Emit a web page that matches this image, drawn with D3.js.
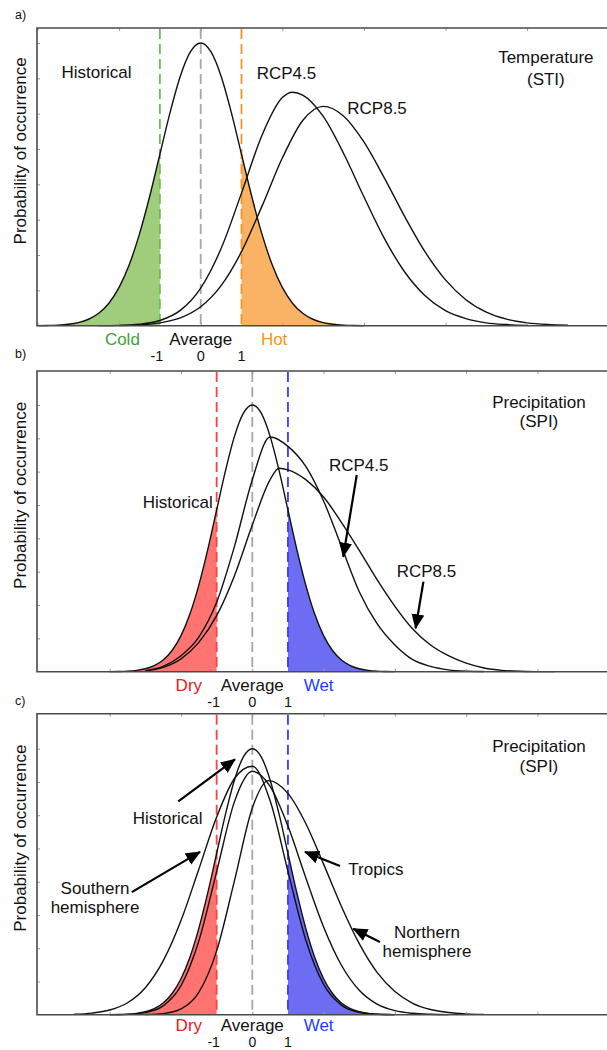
<!DOCTYPE html>
<html><head><meta charset="utf-8">
<script src="https://cdn.jsdelivr.net/npm/d3@7"></script>
<style>
body{margin:0;background:#fff}
svg{display:block}
text{font-family:"Liberation Sans",Arial,Helvetica,sans-serif;fill:#111}
</style>
</head><body>
<svg id="chart" width="607" height="1050"></svg>
<script>
// ---------------- DATA (standardised index units, relative density; historical peak = 1) ----------------
const gridHist = [-4,-3.75,-3.5,-3.25,-3,-2.75,-2.5,-2.25,-2,-1.75,-1.5,-1.25,-1,-0.75,-0.5,-0.25,0,0.25,0.5,0.75,1,1.25,1.5,1.75,2,2.25,2.5,2.75,3,3.25,3.5,3.75,4];
const histDensity = [0.0003,0.0009,0.0022,0.0051,0.0111,0.0228,0.0439,0.0796,0.1353,0.2163,0.3247,0.4578,0.6065,0.7548,0.8825,0.9692,1,0.9692,0.8825,0.7548,0.6065,0.4578,0.3247,0.2163,0.1353,0.0796,0.0439,0.0228,0.0111,0.0051,0.0022,0.0009,0.0003];

// a) Temperature (STI)
const tempRcp45X = [-2.5,-2,-1.5,-1,-0.5,0,0.5,1,1.5,2,2.25,2.5,3,3.5,4,4.5,5,5.5,6,6.5,7,7.5,8];
const tempRcp45Y = [0.0002,0.0012,0.0052,0.0184,0.0541,0.133,0.273,0.469,0.673,0.807,0.826,0.816,0.741,0.610,0.456,0.309,0.190,0.106,0.053,0.025,0.010,0.004,0.001];
const tempRcp85X = [-2,-1.5,-1,-0.5,0,0.5,1,1.5,2,2.5,3,3.5,4,4.5,5,5.5,6,6.5,7,7.5,8,8.5,9];
const tempRcp85Y = [0.0008,0.0031,0.0098,0.0274,0.0668,0.1416,0.2618,0.422,0.593,0.726,0.776,0.742,0.650,0.523,0.386,0.261,0.162,0.092,0.048,0.023,0.010,0.004,0.0015];

// b) Precipitation (SPI), scenarios
const precRcp45X = [-3,-2.5,-2,-1.5,-1,-0.5,0,0.5,1,1.5,2,2.5,3,3.5,4,4.5,5,5.5,6,6.5];
const precRcp45Y = [0.004,0.02,0.06,0.13,0.26,0.47,0.72,0.88,0.845,0.77,0.64,0.47,0.30,0.18,0.10,0.045,0.02,0.007,0.002,0.0005];
const precRcp85X = [-3,-2.5,-2,-1.5,-1,-0.5,0,0.5,0.75,1,1.5,2,2.5,3,3.5,4,4.5,5,5.5,6,6.5,7,7.5,8,8.5];
const precRcp85Y = [0.003,0.016,0.048,0.11,0.21,0.36,0.55,0.72,0.763,0.757,0.72,0.655,0.56,0.455,0.345,0.245,0.16,0.10,0.06,0.032,0.014,0.005,0.0015,0.0004,0.0001];

// c) Precipitation (SPI), regions
const southX = [-5,-4.5,-4,-3.5,-3,-2.5,-2,-1.5,-1,-0.5,0,0.5,1,1.5,2,2.5,3,3.5,4];
const southY = [0.0018,0.006,0.0175,0.0449,0.1016,0.2022,0.354,0.547,0.743,0.888,0.934,0.804,0.539,0.281,0.114,0.036,0.009,0.0017,0.0003];
const tropicsX = [-4,-3.5,-3,-2.5,-2,-1.5,-1,-0.5,0,0.5,1,1.5,2,2.5,3,3.5,4,4.5,5,5.5];
const tropicsY = [0.0002,0.0014,0.0077,0.033,0.109,0.277,0.538,0.801,0.915,0.858,0.709,0.515,0.330,0.186,0.092,0.040,0.0154,0.0052,0.0016,0.0004];
const northX = [-3,-2.5,-2,-1.5,-1,-0.5,0,0.45,1,1.5,2,2.5,3,3.5,4,4.5,5,5.5,6,6.5];
const northY = [0.0006,0.0041,0.0216,0.0841,0.240,0.504,0.777,0.88,0.832,0.719,0.566,0.407,0.267,0.159,0.087,0.043,0.0196,0.0081,0.0031,0.0011];

// thresholds / tick labels / categories
const thresholdValues = [-1, 0, 1];
const thresholdLabels = ["-1", "0", "1"];
const categoriesTemp = ["Cold", "Average", "Hot"];
const categoriesPrec = ["Dry", "Average", "Wet"];
const yTickValues = [0.125,0.25,0.375,0.5,0.625,0.75,0.875,1];
const xTickValues = [-4,-2,0,2,4,6,8,10];

// ---------------- LAYOUT ----------------
const svg = d3.select("#chart");
const frameL = 37, frameR = 612;
const panels = [
  {key:"a", top:28, base:325.7, peak:282.7, x0:200.7, unit:40.8, catDy:19, digitDy:35, digitSize:14.5,
   cats:categoriesTemp, catU:[-1.92,0,1.8],
   catColors:["#45a03a","#111","#f7941e"],
   fillColors:["#9fcd7c","#fab264"], lineColors:["#6cbf4a","#a6a6a6","#f7941e"],
   series:[[gridHist,histDensity],[tempRcp45X,tempRcp45Y],[tempRcp85X,tempRcp85Y]],
   title:[["Temperature",8.46,0.929],["(STI)",8.46,0.8525]],
   labels:[["Historical",-3.41,0.876,"start"],["RCP4.5",1.373,0.871,"start"],["RCP8.5",3.593,0.749,"start"]],
   arrows:[], letterY:19},
  {key:"b", top:371, base:671.7, peak:266.7, x0:252.3, unit:35.65, catDy:19, digitDy:35, digitSize:14.5,
   cats:categoriesPrec, catU:[-1.78,0,1.86],
   catColors:["#e82020","#111","#1f3cff"],
   fillColors:["#ff7470","#6d6df4"], lineColors:["#ff4040","#a6a6a6","#3a3aff"],
   series:[[gridHist,histDensity],[precRcp45X,precRcp45Y],[precRcp85X,precRcp85Y]],
   title:[["Precipitation",8.04,0.9876],["(SPI)",8.04,0.9164]],
   labels:[["Historical",-1.11,0.6127,"end"],["RCP4.5",2.151,0.7537,"start"],["RCP8.5",4.05,0.356,"start"]],
   arrows:[[2.93,0.7375,2.55,0.431],[4.80,0.3375,4.58,0.163]], letterY:358},
  {key:"c", top:713.7, base:1014.7, peak:266, x0:252.3, unit:35.65, catDy:16, digitDy:32.2, digitSize:14,
   cats:categoriesPrec, catU:[-1.78,0,1.86],
   catColors:["#e82020","#111","#1f3cff"],
   fillColors:["#ff7470","#6d6df4"], lineColors:["#ff4040","#a6a6a6","#3a3aff"],
   series:[[gridHist,histDensity],[southX,southY],[tropicsX,tropicsY],[northX,northY]],
   title:[["Precipitation",8.04,0.9887],["(SPI)",8.04,0.9135]],
   labels:[["Historical",-3.355,0.718,"start"],["Southern",-4.41,0.4538,"middle"],["hemisphere",-4.41,0.3835,"middle"],
           ["Tropics",2.693,0.524,"start"],["Northern",4.9,0.287,"middle"],["hemisphere",4.9,0.218,"middle"]],
   arrows:[[-2.076,0.802,-0.485,0.96],[-3.38,0.461,-1.467,0.612],[2.46,0.559,1.478,0.612],[3.58,0.273,2.833,0.323]], letterY:705}
];

const defs = svg.append("defs");
defs.append("marker").attr("id","arrowhead").attr("markerUnits","userSpaceOnUse")
  .attr("markerWidth",16).attr("markerHeight",14).attr("refX",14).attr("refY",6.5)
  .attr("orient","auto")
  .append("path").attr("d","M0,0 L15,6.5 L0,13 Z").attr("fill","#000");

panels.forEach((p, pi) => {
  const x = d3.scaleLinear().domain([0,1]).range([p.x0, p.x0 + p.unit]);
  const y = d3.scaleLinear().domain([0,1]).range([p.base, p.base - p.peak]);
  const g = svg.append("g");
  const toPts = s => s[0].map((xv,i)=>[xv, s[1][i]]);

  const line = d3.line().x(d=>x(d[0])).y(d=>y(d[1])).curve(d3.curveMonotoneX);
  const area = d3.area().x(d=>x(d[0])).y0(y(0)).y1(d=>y(d[1])).curve(d3.curveMonotoneX);

  // clip paths for tails
  const clipL = "clipL"+pi, clipR = "clipR"+pi;
  defs.append("clipPath").attr("id",clipL).append("rect")
    .attr("x",frameL).attr("y",p.top).attr("width",x(-1)-frameL).attr("height",p.base-p.top);
  defs.append("clipPath").attr("id",clipR).append("rect")
    .attr("x",x(1)).attr("y",p.top).attr("width",frameR-x(1)).attr("height",p.base-p.top);

  const hist = toPts(p.series[0]);
  g.append("path").attr("d",area(hist)).attr("fill",p.fillColors[0]).attr("clip-path",`url(#${clipL})`);
  g.append("path").attr("d",area(hist)).attr("fill",p.fillColors[1]).attr("clip-path",`url(#${clipR})`);

  // dashed threshold lines
  thresholdValues.forEach((t,i)=>{
    g.append("line").attr("x1",x(t)).attr("x2",x(t)).attr("y1",p.top+1).attr("y2",p.base)
      .attr("stroke",p.lineColors[i]).attr("stroke-width",1.8).attr("stroke-dasharray","10,5");
  });

  // curves
  p.series.forEach(s=>{
    g.append("path").attr("d",line(toPts(s))).attr("fill","none")
      .attr("stroke","#111").attr("stroke-width",1.4);
  });

  // axes ticks (inward)
  const tickCol = "#999";
  const yl = g.append("g").attr("transform",`translate(${frameL},0)`)
    .call(d3.axisRight(y).tickValues(yTickValues).tickSize(3).tickFormat(""));
  const xt = g.append("g").attr("transform",`translate(0,${p.top})`)
    .call(d3.axisBottom(x).tickValues(xTickValues).tickSize(3).tickFormat(""));
  const xb = g.append("g").attr("transform",`translate(0,${p.base})`)
    .call(d3.axisTop(x).tickValues(xTickValues).tickSize(3).tickFormat(""));
  [yl,xt,xb].forEach(a=>{a.select(".domain").remove(); a.selectAll("line").attr("stroke",tickCol);});

  // frame
  g.append("path").attr("d",`M${frameR},${p.top}H${frameL}V${p.base}H${frameR}`)
    .attr("fill","none").attr("stroke","#4a4a4a").attr("stroke-width",1.6);

  // y-axis title
  g.append("text").attr("transform",`translate(26,${(p.top+p.base)/2-26}) rotate(-90)`)
    .attr("text-anchor","middle").attr("font-size",17).text("Probability of occurrence");

  // panel letter
  g.append("text").attr("x",15).attr("y",p.letterY).attr("font-size",12.5).text(p.key+")");

  // category labels and threshold tick labels
  p.cats.forEach((c,i)=>{
    g.append("text").attr("x",x(p.catU[i])).attr("y",p.base+p.catDy).attr("text-anchor","middle")
      .attr("font-size",17).style("fill",p.catColors[i]).text(c);
  });
  thresholdValues.forEach((t,i)=>{
    g.append("text").attr("x",x(t) - (thresholdLabels[i].startsWith("-")?3:0)).attr("y",p.base+p.digitDy)
      .attr("text-anchor","middle").attr("font-size",p.digitSize).text(thresholdLabels[i]);
  });

  // titles and series labels
  p.title.forEach(t=>{
    g.append("text").attr("x",x(t[1])).attr("y",y(t[2])).attr("text-anchor","middle")
      .attr("font-size",17).text(t[0]);
  });
  p.labels.forEach(l=>{
    g.append("text").attr("x",x(l[1])).attr("y",y(l[2])).attr("text-anchor",l[3])
      .attr("font-size",17).text(l[0]);
  });

  // arrows
  p.arrows.forEach(a=>{
    g.append("line").attr("x1",x(a[0])).attr("y1",y(a[1])).attr("x2",x(a[2])).attr("y2",y(a[3]))
      .attr("stroke","#000").attr("stroke-width",2.2).attr("marker-end","url(#arrowhead)");
  });
});
</script>
</body></html>
